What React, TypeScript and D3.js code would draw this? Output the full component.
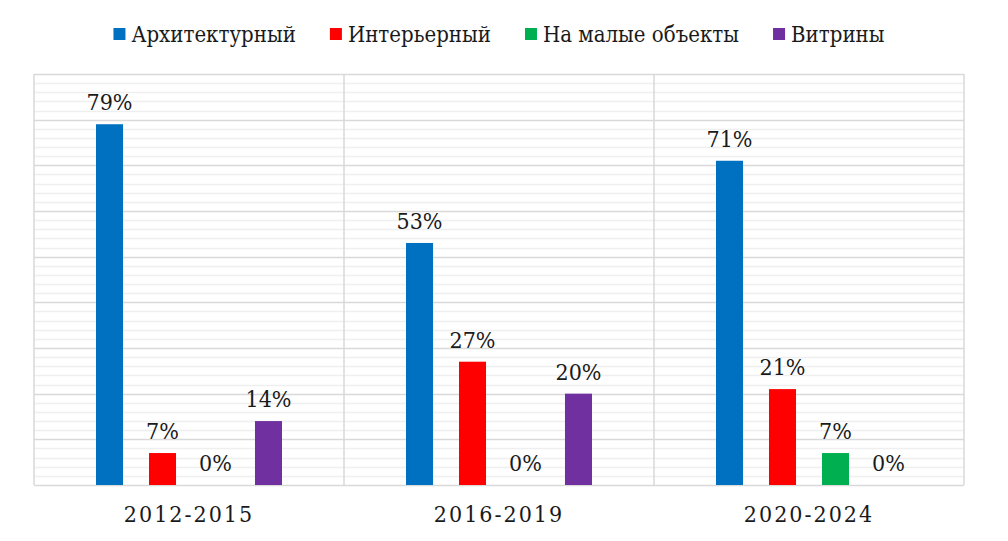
import React, { useRef, useEffect } from 'react';
import * as d3 from 'd3';

// periods on the x axis
const periods = ['2012-2015', '2016-2019', '2020-2024'];

// series names (legend order)
const seriesNames = ['Архитектурный', 'Интерьерный', 'На малые объекты', 'Витрины'];
const seriesColors = ['#0070C0', '#FF0000', '#00B050', '#7030A0'];

// shares per period, in the same order as seriesNames
const architectural = [0.79, 0.53, 0.71];
const interior = [0.07, 0.27, 0.21];
const smallObjects = [0, 0, 0.07];
const showcases = [0.14, 0.2, 0];

const W = 1008;
const H = 541;
const FONT = "'DejaVu Serif Condensed', 'DejaVu Serif'";

export default function App() {
  const svgRef = useRef<SVGSVGElement>(null);

  useEffect(() => {
    if (!svgRef.current) return;
    document.body.style.margin = '0';

    const svg = d3.select(svgRef.current);
    svg.selectAll('*').remove();

    const plot = { left: 34, right: 964, top: 74, bottom: 485 };
    const values = [architectural, interior, smallObjects, showcases];

    const y = d3.scaleLinear().domain([0, 0.9]).range([plot.bottom, plot.top]);
    const x0 = d3.scaleBand<string>().domain(periods).range([plot.left, plot.right]).padding(0);
    const x1 = d3.scaleBand<string>()
      .domain(seriesNames)
      .range([0, x0.bandwidth()])
      .paddingInner(0.49)
      .paddingOuter(1.17);

    // minor grid (every 2%)
    const minor = d3.range(0, 0.9001, 0.02).filter(v => Math.round(v * 100) % 10 !== 0);
    svg.append('g')
      .selectAll('line')
      .data(minor)
      .join('line')
      .attr('x1', plot.left).attr('x2', plot.right)
      .attr('y1', d => Math.round(y(d)) + 0.5).attr('y2', d => Math.round(y(d)) + 0.5)
      .attr('stroke', '#efefef').attr('stroke-width', 1.5);

    // major grid (every 10%)
    const major = d3.range(0, 0.9001, 0.1);
    svg.append('g')
      .selectAll('line')
      .data(major)
      .join('line')
      .attr('x1', plot.left).attr('x2', plot.right)
      .attr('y1', d => Math.round(y(d)) + 0.5).attr('y2', d => Math.round(y(d)) + 0.5)
      .attr('stroke', '#d9d9d9').attr('stroke-width', 1.5);

    // vertical separators between periods
    const seps = periods.map(p => x0(p) as number).concat([plot.right]);
    svg.append('g')
      .selectAll('line')
      .data(seps)
      .join('line')
      .attr('x1', d => d).attr('x2', d => d)
      .attr('y1', plot.top).attr('y2', plot.bottom)
      .attr('stroke', '#d9d9d9').attr('stroke-width', 1.5);

    // bars and labels
    const groups = svg.append('g')
      .selectAll('g')
      .data(periods)
      .join('g')
      .attr('transform', p => `translate(${x0(p)},0)`);

    groups.each(function (p, pi) {
      const g = d3.select(this);
      seriesNames.forEach((s, si) => {
        const v = values[si][pi];
        const bx = x1(s) as number;
        if (v > 0) {
          g.append('rect')
            .attr('x', bx)
            .attr('y', y(v))
            .attr('width', x1.bandwidth())
            .attr('height', y(0) - y(v))
            .attr('fill', seriesColors[si]);
        }
        g.append('text')
          .attr('x', bx + x1.bandwidth() / 2)
          .attr('y', y(v) - 14)
          .attr('text-anchor', 'middle')
          .attr('font-family', FONT)
          .attr('font-size', 23)
          .attr('fill', '#1a1a1a')
          .text(`${Math.round(v * 100)}%`);
      });
    });

    // category labels
    svg.append('g')
      .selectAll('text')
      .data(periods)
      .join('text')
      .attr('x', p => (x0(p) as number) + x0.bandwidth() / 2)
      .attr('y', 522)
      .attr('text-anchor', 'middle')
      .attr('font-family', FONT)
      .attr('font-size', 23)
      .attr('letter-spacing', 2)
      .attr('fill', '#1a1a1a')
      .text(p => p);

    // legend, laid out from measured text widths
    const legend = svg.append('g');
    const sq = 12;
    const gapAfterSq = 6;
    const gapItems = 34;
    const items = seriesNames.map((s, i) => {
      const item = legend.append('g');
      item.append('rect')
        .attr('x', 0).attr('y', 28).attr('width', sq).attr('height', sq)
        .attr('fill', seriesColors[i]);
      const t = item.append('text')
        .attr('x', sq + gapAfterSq)
        .attr('y', 42)
        .attr('font-family', FONT)
        .attr('font-size', 22)
        .attr('fill', '#1a1a1a')
        .text(s);
      const w = (t.node() as SVGTextElement).getComputedTextLength();
      return { item, width: sq + gapAfterSq + w };
    });
    const total = d3.sum(items, d => d.width) + gapItems * (items.length - 1);
    let cx = (plot.left + plot.right) / 2 - total / 2;
    items.forEach(d => {
      d.item.attr('transform', `translate(${cx},0)`);
      cx += d.width + gapItems;
    });
  }, []);

  return <svg ref={svgRef} width={W} height={H} style={{ display: 'block', background: '#fff' }} />;
}
